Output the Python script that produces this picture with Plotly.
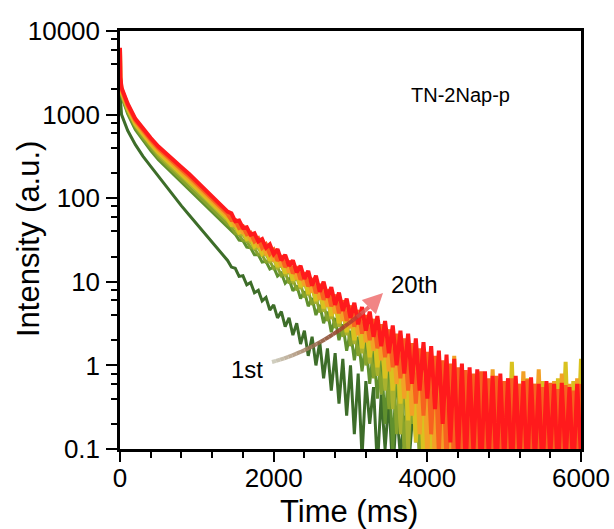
import plotly.graph_objects as go

# ---------------- data ----------------
TIME_MS = [0, 5, 20, 50, 100, 200, 300, 400, 500, 600, 700, 800, 900, 1000, 1100, 1200, 1300, 1400,
           1450, 1500, 1550, 1600, 1650, 1700, 1750, 1800, 1850, 1900, 1950, 2000, 2050, 2100, 2150, 2200,
           2250, 2300, 2350, 2400, 2450, 2500, 2550, 2600, 2650, 2700, 2750, 2800, 2850, 2900, 2950, 3000,
           3050, 3100, 3150, 3200, 3250, 3300, 3350, 3400, 3450, 3500, 3550, 3600, 3650, 3700, 3750, 3800,
           3850, 3900, 3950, 4000, 4050, 4100, 4150, 4200, 4250, 4300, 4350, 4400, 4450, 4500, 4550, 4600,
           4650, 4700, 4750, 4800, 4850, 4900, 4950, 5000, 5050, 5100, 5150, 5200, 5250, 5300, 5350, 5400,
           5450, 5500, 5550, 5600, 5650, 5700, 5750, 5800, 5850, 5900, 5950, 6000]

CYCLE_LABELS = ["1st", "4th", "7th", "10th", "13th", "16th", "18th", "20th"]
CYCLE_COLORS = ["#3d6d29", "#60902e", "#87a32c", "#aab22e", "#d9c21f", "#f2a126", "#f7621f", "#ff1a1c"]
LINE_WIDTHS = [3.0, 3.0, 3.0, 3.2, 4.0, 4.0, 4.0, 4.0]

INT_01 = [6000, 1580, 1000, 830, 645, 437, 316, 240, 182, 138, 105, 81, 63, 49, 38, 30, 23, 18,
          15, 14.5, 11.6, 11.8, 9.2, 9.8, 7.4, 7.9, 5.9, 6.5, 4.6, 5.3, 3.7, 4.4, 2.9, 3.7, 2.3, 3.2,
          1.8, 2.6, 1.3, 2.2, 1.0, 1.9, 0.7, 1.6, 0.5, 1.4, 0.35, 1.2, 0.25, 1.0, 0.15, 0.8, 0.08, 0.65,
          0.2, 0.55, 0.06, 0.45, 0.1, 0.4, 0.05, 0.3, 0.08, 0.25, 0.05, 0.2]

INT_04 = [5620, 2240, 1660, 1350, 1020, 660, 490, 372, 288, 234, 190, 155, 126, 102, 83, 68, 55, 45,
          40, 37, 31.5, 31, 26, 25.5, 21, 21, 17.2, 17.6, 14.2, 15, 11.7, 12.7, 9.6, 10.8, 7.8, 9.0,
          6.3, 7.7, 5.1, 6.4, 4.0, 5.3, 3.2, 4.4, 2.5, 3.7, 2.0, 3.1, 1.5, 2.6, 1.15, 2.2, 0.85, 1.9,
          0.6, 1.6, 0.4, 1.3, 0.2, 1.1, 0.09, 0.95, 0.15, 0.75, 0.06, 0.6, 0.12, 0.5, 0.05, 0.4]

INT_07 = [5750, 2340, 1740, 1410, 1070, 710, 525, 398, 309, 251, 204, 170, 138, 112, 91, 74, 60, 49,
          45, 38, 36.5, 31, 30.5, 25.5, 25, 21, 21, 17.2, 17.8, 14.4, 15, 11.8, 12.9, 9.6, 10.9, 7.9,
          9.3, 6.5, 7.9, 5.3, 6.6, 4.3, 5.6, 3.4, 4.6, 2.8, 3.9, 2.2, 3.3, 1.7, 2.7, 1.3, 2.3, 1.0,
          2.0, 0.7, 1.7, 0.45, 1.4, 0.3, 1.2, 0.15, 1.0, 0.08, 0.85, 0.2, 0.7, 0.06, 0.6, 0.1]

INT_10 = [5890, 2450, 1820, 1480, 1150, 741, 562, 427, 331, 269, 224, 182, 151, 123, 100, 81, 66, 54,
          47, 44, 37.5, 36.5, 31, 30, 25, 25.5, 21, 21.5, 17.5, 18.5, 14.6, 15.8, 12.2, 13.3, 10.0, 11.3,
          8.3, 9.8, 6.9, 8.4, 5.5, 7.0, 4.4, 6.0, 3.6, 5.2, 2.9, 4.5, 2.3, 3.8, 1.8, 3.3, 1.4, 2.9,
          1.05, 2.5, 0.75, 2.1, 0.5, 1.8, 0.3, 1.5, 0.15, 1.3, 0.08, 1.1, 0.2, 0.95, 0.07, 0.8]

INT_13 = [6030, 2540, 1880, 1550, 1190, 776, 585, 449, 353, 287, 237, 195, 160, 130, 106, 86, 70, 57,
          48, 48.5, 39, 40.5, 32.5, 33.5, 26.5, 28.5, 21.8, 24.5,
          18, 21, 15.2, 18, 12.6, 15.5, 10.4, 13.2, 8.7, 11.2,
          7.2, 9.6, 5.9, 8.1, 4.8, 6.9, 3.9, 5.9, 3.2, 5.0,
          2.5, 4.2, 2.0, 3.6, 1.6, 3.1, 1.25, 2.7, 0.95, 2.3,
          0.7, 2.0, 0.5, 1.7, 0.35, 1.45, 0.22, 1.25, 0.12, 1.1,
          0.07, 0.95, 0.05, 0.85, 0.08, 0.8, 0.05, 0.7, 0.07, 0.75,
          0.05, 0.65, 0.08, 0.7, 0.05, 0.6, 0.07, 0.65, 0.05, 0.7,
          0.08, 0.6, 0.05, 1.1, 0.06, 0.6, 0.05, 0.7, 0.08, 0.6,
          0.05, 0.65, 0.07, 0.6, 0.05, 0.7, 0.08, 1.1, 0.05, 0.65,
          0.07, 1.2]

INT_16 = [6100, 2630, 1950, 1610, 1240, 815, 614, 473, 373, 303, 251, 207, 171, 139, 113, 92, 75, 61,
          57, 47, 47, 39, 40, 32, 33.5, 27, 28.5, 22,
          24, 18.6, 20.5, 15.5, 17.8, 13, 15, 10.8, 12.8, 9.1,
          11, 7.5, 9.5, 6.2, 8.1, 5.1, 7.0, 4.2, 6.0, 3.4,
          5.2, 2.8, 4.5, 2.3, 3.9, 1.9, 3.4, 1.5, 3.0, 1.15,
          2.6, 0.85, 2.2, 0.6, 1.9, 0.4, 1.7, 0.25, 1.5, 0.15,
          1.3, 0.08, 1.15, 0.06, 1.0, 0.08, 0.95, 0.05, 1.3, 0.07,
          0.85, 0.05, 0.8, 0.08, 0.75, 0.05, 0.7, 0.06, 0.9, 0.05,
          0.65, 0.08, 0.7, 0.05, 0.6, 0.07, 0.85, 0.05, 0.6, 0.08,
          0.9, 0.05, 0.6, 0.07, 0.65, 0.05, 0.8, 0.06, 0.6, 0.05,
          0.7, 0.08]

INT_18 = [6170, 2720, 2020, 1670, 1290, 851, 646, 501, 394, 321, 266, 220, 183, 149, 121, 98, 80, 65,
          55, 55, 44, 46, 37, 38.5, 30.5, 33, 25.5, 28,
          21.5, 24, 17.8, 20.5, 15, 17.8, 12.6, 15.2, 10.6, 12.9,
          8.8, 11, 7.3, 9.4, 6.1, 8.1, 5.1, 7.0, 4.2, 6.0,
          3.4, 5.2, 2.9, 4.6, 2.4, 4.0, 2.0, 3.6, 1.6, 3.1,
          1.25, 2.7, 0.95, 2.4, 0.7, 2.1, 0.5, 1.85, 0.35, 1.6,
          0.25, 1.45, 0.15, 1.3, 0.09, 1.15, 0.07, 1.05, 0.05, 0.95,
          0.08, 0.88, 0.05, 0.8, 0.07, 0.85, 0.05, 0.7, 0.08, 0.75,
          0.05, 0.65, 0.07, 0.7, 0.05, 0.6, 0.08, 0.68, 0.05, 0.6,
          0.07, 0.55, 0.05, 0.62, 0.08, 0.52, 0.05, 0.58, 0.07, 0.5,
          0.05, 0.6]

INT_20 = [6300, 2800, 2100, 1740, 1350, 890, 680, 525, 415, 340, 280, 235, 195, 158, 129, 105, 85, 69,
          66, 53, 54, 44, 45, 36.5, 38, 30.5, 32.5, 25.5,
          28, 21.5, 24.5, 18, 21, 15.5, 18, 13, 15.5, 10.8,
          13.5, 9.0, 11.8, 7.6, 10.0, 6.5, 8.6, 5.3, 7.4, 4.5,
          6.3, 3.7, 5.6, 3.1, 5.0, 2.6, 4.4, 2.2, 3.9, 1.7,
          3.4, 1.4, 3.0, 1.0, 2.6, 0.8, 2.4, 0.6, 2.1, 0.5,
          1.9, 0.4, 1.7, 0.3, 1.5, 0.2, 1.35, 0.12, 1.2, 0.08,
          1.05, 0.06, 0.95, 0.09, 0.9, 0.05, 0.85, 0.08, 0.75, 0.05,
          0.8, 0.07, 0.7, 0.05, 0.75, 0.08, 0.65, 0.05, 0.72, 0.07,
          0.6, 0.05, 0.65, 0.08, 0.6, 0.05, 0.62, 0.07, 0.55, 0.05,
          0.6, 0.08]

SERIES = [INT_01, INT_04, INT_07, INT_10, INT_13, INT_16, INT_18, INT_20]

X_TICKS = [0, 2000, 4000, 6000]
X_TICK_TEXT = ["0", "2000", "4000", "6000"]
Y_TICKS = [0.1, 1, 10, 100, 1000, 10000]
Y_TICK_TEXT = ["0.1", "1", "10", "100", "1000", "10000"]
Y_MINOR = [m * d for d in [0.1, 1, 10, 100, 1000] for m in (2, 4, 6, 8)]

FONT = "Liberation Sans, Arial, sans-serif"

fig = go.Figure()
for name, color, lw, vals in zip(CYCLE_LABELS, CYCLE_COLORS, LINE_WIDTHS, SERIES):
    fig.add_trace(go.Scatter(x=TIME_MS[:len(vals)], y=vals, mode="lines", name=name,
                             line=dict(color=color, width=lw), showlegend=False))

# plot area in pixels: x 120..581, y 31..449
L, R, T, B = 120, 33, 31, 80
W, H = 614, 529
PW, PH = W - L - R, H - T - B


def px(xp, yp):
    return (xp - L) / PW, (H - B - yp) / PH


# curved gradient arrow (1st -> 20th)
P0, P1, P2 = (272, 362), (321, 349), (369, 307)
STOPS = [(0.0, (205, 205, 190)), (0.35, (165, 130, 100)), (0.6, (140, 75, 48)),
         (0.85, (190, 60, 48)), (1.0, (236, 110, 110))]


def col_at(t):
    for (t0, c0), (t1, c1) in zip(STOPS[:-1], STOPS[1:]):
        if t <= t1:
            f = (t - t0) / (t1 - t0)
            return "rgb(%d,%d,%d)" % tuple(round(a + (b - a) * f) for a, b in zip(c0, c1))
    return "rgb(%d,%d,%d)" % STOPS[-1][1]


N = 24
pts = []
for i in range(N + 1):
    t = i / N
    x = (1 - t) ** 2 * P0[0] + 2 * (1 - t) * t * P1[0] + t ** 2 * P2[0]
    y = (1 - t) ** 2 * P0[1] + 2 * (1 - t) * t * P1[1] + t ** 2 * P2[1]
    pts.append((x, y))
shapes = []
for i in range(N):
    x0, y0 = px(*pts[i])
    x1, y1 = px(*pts[i + 1])
    shapes.append(dict(type="line", xref="paper", yref="paper", x0=x0, y0=y0, x1=x1, y1=y1,
                       line=dict(color=col_at((i + 0.5) / N), width=4), opacity=0.9, layer="above"))

tipx, tipy = px(383, 293)


def label(xp, yp, text, size, angle=0):
    x, y = px(xp, yp)
    return dict(xref="paper", yref="paper", x=x, y=y, text=text, showarrow=False,
                xanchor="center", yanchor="middle", textangle=angle,
                font=dict(size=size, family=FONT, color="black"))


annotations = [
    dict(xref="paper", yref="paper", x=tipx, y=tipy, ax=P2[0] - 383, ay=P2[1] - 293,
         showarrow=True, arrowhead=2, arrowsize=1.0, arrowwidth=4, arrowcolor="rgba(240,120,120,0.9)", text=""),
    label(460, 95, "TN-2Nap-p", 20),
    label(414, 284, "20th", 24),
    label(247, 369, "1st", 24),
    label(349, 511, "Time (ms)", 31),
    label(28, 239, "Intensity (a.u.)", 31, -90),
]

fig.update_layout(
    width=W, height=H, margin=dict(l=L, r=R, t=T, b=B),
    paper_bgcolor="white", plot_bgcolor="white",
    font=dict(family=FONT, color="black"), showlegend=False,
    shapes=shapes, annotations=annotations,
)
fig.update_xaxes(
    range=[0, 6000], tickmode="array", tickvals=X_TICKS, ticktext=X_TICK_TEXT,
    ticks="outside", ticklen=10, tickwidth=2, tickcolor="black", ticklabelstandoff=-6,
    showline=True, linewidth=2.5, linecolor="black", mirror=True, automargin=False,
    showgrid=False, zeroline=False, tickfont=dict(size=26, family=FONT),
    minor=dict(tickmode="linear", tick0=0, dtick=400, ticks="outside", ticklen=6, tickwidth=2,
               tickcolor="black", showgrid=False),
)
fig.update_yaxes(
    type="log", range=[-1, 4], tickmode="array", tickvals=Y_TICKS, ticktext=Y_TICK_TEXT,
    ticks="outside", ticklen=11, tickwidth=2, tickcolor="black", ticklabelstandoff=1,
    showline=True, linewidth=2.5, linecolor="black", mirror=True, automargin=False,
    showgrid=False, zeroline=False, tickfont=dict(size=26, family=FONT),
    minor=dict(tickmode="array", tickvals=Y_MINOR, ticks="outside", ticklen=6, tickwidth=2,
               tickcolor="black", showgrid=False),
)

fig.write_html("out.html")
